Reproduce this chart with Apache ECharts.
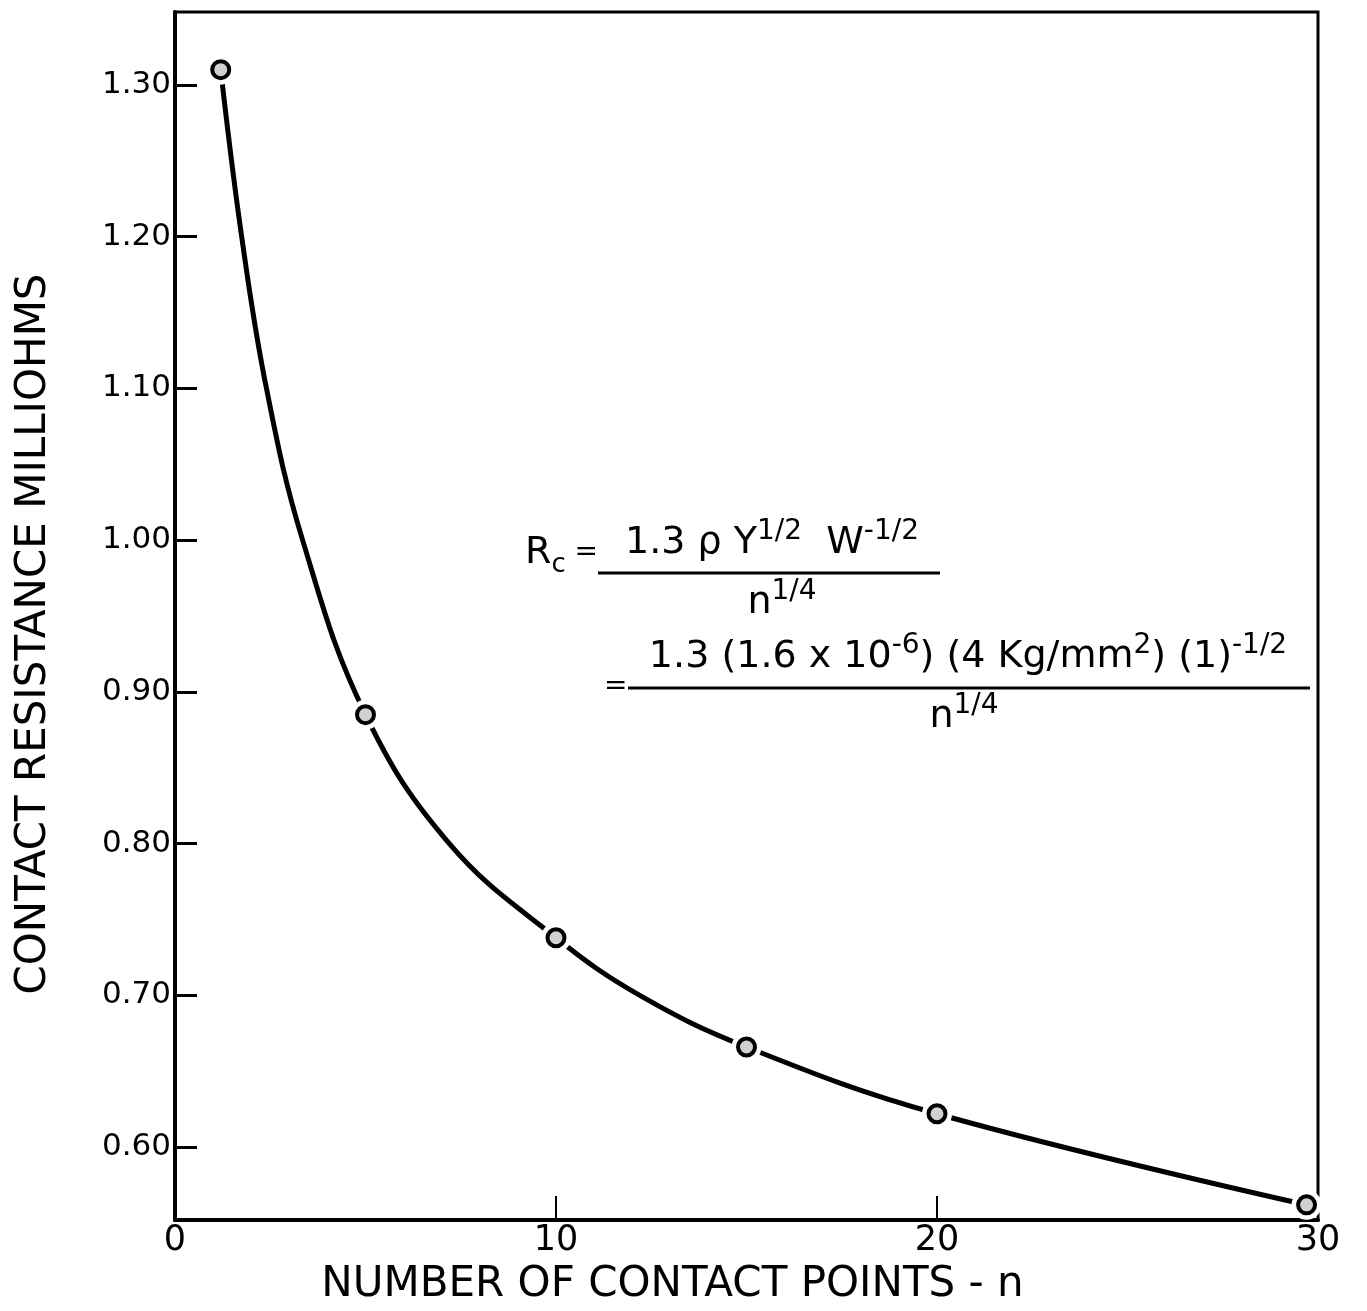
<!DOCTYPE html>
<html lang="en">
<head>
    <meta charset="UTF-8">
    <title>Contact resistance vs contact points</title>
    <script src="https://cdn.jsdelivr.net/npm/echarts@6/dist/echarts.min.js"></script>
    <style>
        html, body { margin: 0; padding: 0; background: #fff; }
        #main { width: 1367px; height: 1311px; }
    </style>
</head>
<body>
<div id="main"></div>
<script type="text/javascript">
    // measured points (n, milliohms)
    var pointN = [1.2, 5, 10, 15, 20, 29.7];
    var pointR = [1.31, 0.885, 0.738, 0.666, 0.622, 0.562];
    // points
    var curveN = [1.2, 1.75, 2.4, 3.35, 5, 7.2, 10, 12.2, 15, 20, 29.7];
    var curveR = [1.31, 1.20, 1.10, 1.00, 0.885, 0.80, 0.738, 0.70, 0.666, 0.622, 0.562];
    var yTicks = [0.6, 0.7, 0.8, 0.9, 1.0, 1.1, 1.2, 1.3];
    var xTicks = [0, 10, 20, 30];

    var FONT = 'DejaVu Sans';
    var myChart = echarts.init(document.getElementById('main'));

    var curve = curveN.map(function (n, i) { return [n, curveR[i]]; });
    var pts = pointN.map(function (n, i) { return [n, pointR[i]]; });

    var rich = {
        a: { fontFamily: FONT, fontSize: 38, color: '#000', lineHeight: 50 },
        s: { fontFamily: FONT, fontSize: 28, color: '#000', verticalAlign: 'top', lineHeight: 26 },
        b: { fontFamily: FONT, fontSize: 26, color: '#000', verticalAlign: 'bottom', lineHeight: 34 },
        e: { fontFamily: FONT, fontSize: 28, color: '#000', lineHeight: 50 }
    };

    var option = {
        backgroundColor: '#fff',
        animation: false,
        grid: {
            left: 175, right: 49, top: 12, bottom: 89,
            show: true, borderColor: '#000', borderWidth: 3
        },
        xAxis: {
            type: 'value', min: 0, max: 30,
            name: 'NUMBER OF CONTACT POINTS - n',
            nameLocation: 'middle', nameGap: 44,
            nameTextStyle: { fontFamily: FONT, fontSize: 42, color: '#000', padding: [0, 148, 0, 0] },
            axisLine: { show: true, onZero: false, lineStyle: { color: '#000', width: 4 } },
            axisTick: { show: true, inside: true, length: 24, customValues: [10, 20], lineStyle: { color: '#000', width: 2 } },
            axisLabel: { customValues: xTicks, fontFamily: FONT, fontSize: 35, color: '#000', margin: 3 },
            splitLine: { show: false }
        },
        yAxis: {
            type: 'value', min: 0.552, max: 1.348,
            name: 'CONTACT RESISTANCE MILLIOHMS',
            nameLocation: 'middle', nameGap: 120,
            nameTextStyle: { fontFamily: FONT, fontSize: 42, color: '#000', padding: [0, 36, 0, 0] },
            axisLine: { show: true, onZero: false, lineStyle: { color: '#000', width: 4 } },
            axisTick: { show: true, inside: true, length: 22, customValues: yTicks, lineStyle: { color: '#000', width: 3 } },
            axisLabel: {
                customValues: yTicks, fontFamily: FONT, fontSize: 31, color: '#000', margin: 4,
                formatter: function (v) { return v.toFixed(2); }
            },
            splitLine: { show: false }
        },
        series: [
            {
                type: 'line', data: curve, smooth: 0.4, showSymbol: false,
                lineStyle: { color: '#000', width: 5 }, z: 2
            },
            {
                // white gaps round the points
                type: 'scatter', data: pts, symbolSize: 30,
                itemStyle: { color: '#fff', opacity: 1 }, z: 3
            },
            {
                type: 'scatter', data: pts, symbolSize: 17,
                itemStyle: { color: '#d0d0d0', borderColor: '#000', borderWidth: 4, opacity: 1 }, z: 4
            }
        ],
        graphic: [
            { type: 'text', x: 525, y: 528, style: { text: '{a|R}{b|c}{e| =}', rich: rich } },
            { type: 'text', x: 772, y: 518, style: { text: '{a|1.3 ρ Y}{s|1/2}{a|  W}{s|-1/2}', rich: rich, align: 'center' } },
            { type: 'line', shape: { x1: 598, y1: 573, x2: 940, y2: 573 }, style: { stroke: '#000', lineWidth: 3 } },
            { type: 'text', x: 782, y: 578, style: { text: '{a|n}{s|1/4}', rich: rich, align: 'center' } },
            { type: 'text', x: 604, y: 662, style: { text: '{e|=}', rich: rich } },
            { type: 'text', x: 968, y: 632, style: { text: '{a|1.3 (1.6 x 10}{s|-6}{a|) (4 Kg/mm}{s|2}{a|) (1)}{s|-1/2}', rich: rich, align: 'center' } },
            { type: 'line', shape: { x1: 628, y1: 688, x2: 1310, y2: 688 }, style: { stroke: '#000', lineWidth: 3 } },
            { type: 'text', x: 964, y: 692, style: { text: '{a|n}{s|1/4}', rich: rich, align: 'center' } }
        ]
    };
    myChart.setOption(option);
</script>
</body>
</html>
